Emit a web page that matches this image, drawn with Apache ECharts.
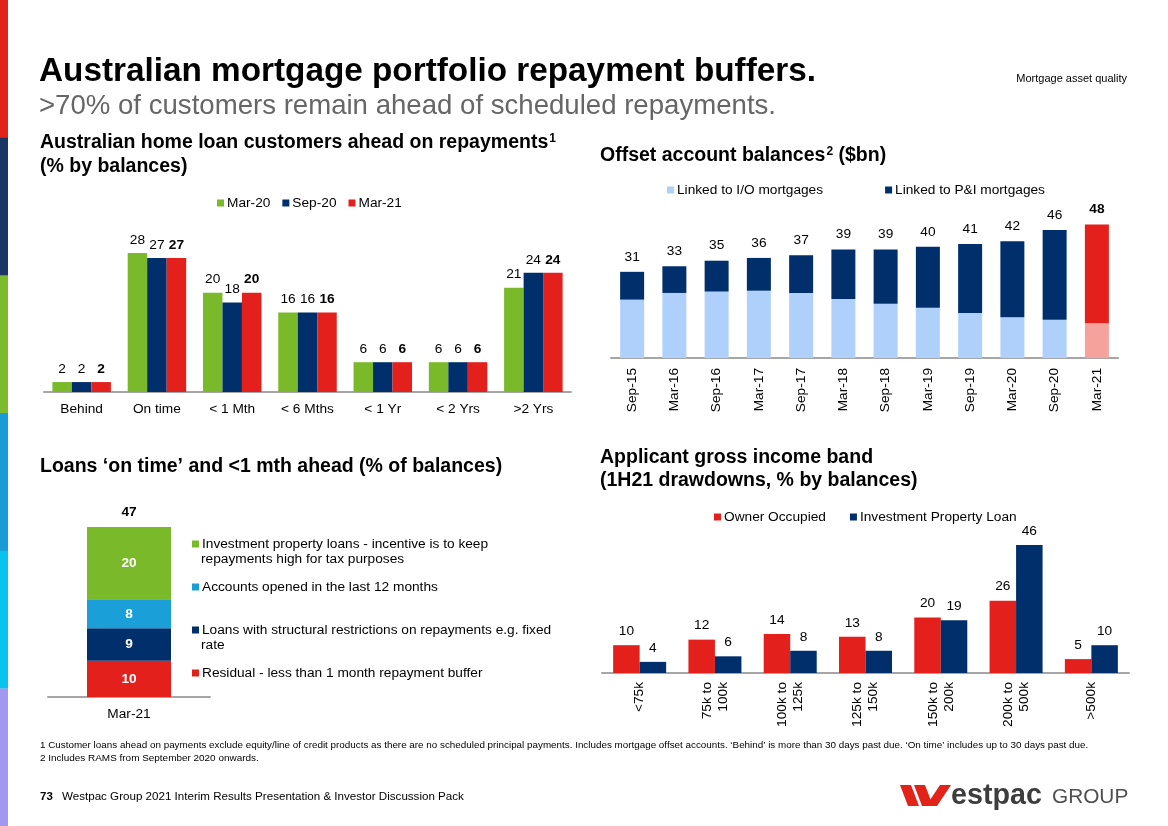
<!DOCTYPE html>
<html><head><meta charset="utf-8">
<script src="https://cdn.jsdelivr.net/npm/echarts@6/dist/echarts.min.js"></script>
<style>html,body{margin:0;padding:0;background:#fff}#c{width:1168px;height:826px}</style>
</head><body><div id="c"></div>
<script>
// ---- Data ----
const repayCats = ['Behind','On time','< 1 Mth','< 6 Mths','< 1 Yr','< 2 Yrs','>2 Yrs'];
const repayMar20 = [2,28,20,16,6,6,21];
const repaySep20 = [2,27,18,16,6,6,24];
const repayMar21 = [2,27,20,16,6,6,24];

const offsetCats = ['Sep-15','Mar-16','Sep-16','Mar-17','Sep-17','Mar-18','Sep-18','Mar-19','Sep-19','Mar-20','Sep-20','Mar-21'];
const offsetIO = [21.0,23.4,23.9,24.2,23.4,21.2,19.5,18.1,16.2,14.7,13.8,12.5];
const offsetPI = [10.0,9.6,11.1,11.8,13.6,17.8,19.5,21.9,24.8,27.3,32.2,35.5];
const offsetTotals = [31,33,35,36,37,39,39,40,41,42,46,48];

const onTimeCat = ['Mar-21'];
const onTimeResidual = [10];
const onTimeStructural = [9];
const onTimeAccounts = [8];
const onTimeInvestment = [20];
const onTimeTotal = [47];

const incomeCats = ['<75k','75k to\n100k','100k to\n125k','125k to\n150k','150k to\n200k','200k to\n500k','>500k'];
const incomeOwner = [10,12,14,13,20,26,5];
const incomeInvest = [4,6,8,8,19,46,10];

// ---- Styles ----
const FONT = "'Liberation Sans', Arial, sans-serif";
const FS = 13.7;
const RED = '#e3201b', NAVY = '#002f6c', GREEN = '#7ab929', LBLUE = '#afd0fb', LRED = '#f5a19c', CYAN = '#1a9fd9';
const AXIS = '#a6a6a6';

const chart = echarts.init(document.getElementById('c'));

function catAxis(gi, data, labelExtra) {
  return {
    type: 'category', gridIndex: gi, data: data,
    axisTick: {show: false},
    axisLine: {lineStyle: {color: AXIS, width: 2}},
    axisLabel: Object.assign({color: '#000', fontFamily: FONT, fontSize: FS, margin: 10, interval: 0}, labelExtra || {})
  };
}
function valAxis(gi, max) {
  return {type: 'value', gridIndex: gi, min: 0, max: max, show: false};
}
const lbl = (bold, extra) => Object.assign({show: true, position: 'top', distance: 6, color: '#000',
  fontFamily: FONT, fontSize: FS, fontWeight: bold ? 'bold' : 'normal'}, extra || {});
const legText = {fontFamily: FONT, fontSize: FS, color: '#000', padding: [0,0,0,-2]};

const investName = 'Investment property loans - incentive is to keep';
const accountsName = 'Accounts opened in the last 12 months';
const structName = 'Loans with structural restrictions on repayments e.g. fixed';
const residName = 'Residual - less than 1 month repayment buffer';

const stripColors = ['#e2231a','#1b3566','#7cbb2e','#1a9ad6','#09c3ee','#a398ef'];
const graphics = [];
stripColors.forEach((c, i) => {
  graphics.push({type: 'rect', left: 0, top: i * 137.7, shape: {width: 8, height: 138}, style: {fill: c}, z: 10});
});
function txt(x, y, text, size, weight, color) {
  return {type: 'text', x: x, y: y, style: {text: text, fontFamily: FONT, fontSize: size,
    fontWeight: weight || 'normal', fill: color || '#000', verticalAlign: 'middle', align: 'left'}};
}
const TS = 19.5;
const sup = {fontFamily: FONT, fontSize: 12, fontWeight: 'bold', fill: '#000', padding: [0,0,9,1]};
const tA = {fontFamily: FONT, fontSize: TS, fontWeight: 'bold', fill: '#000'};

graphics.push(txt(39, 72, 'Australian mortgage portfolio repayment buffers.', 33.3, 'bold', '#000'));
graphics.push(txt(39, 106, '>70% of customers remain ahead of scheduled repayments.', 27.6, 'normal', '#666'));
graphics.push({type: 'text', x: 1127, y: 79, style: {text: 'Mortgage asset quality', fontFamily: FONT, fontSize: 11, fill: '#000', align: 'right', verticalAlign: 'middle'}});

graphics.push({type: 'text', x: 40, y: 143, style: {text: '{a|Australian home loan customers ahead on repayments}{s|1}',
  verticalAlign: 'middle', rich: {a: tA, s: sup}}});
graphics.push(txt(40, 167, '(% by balances)', TS, 'bold'));
graphics.push({type: 'text', x: 600, y: 156, style: {text: '{a|Offset account balances}{s|2}{a| ($bn)}',
  verticalAlign: 'middle', rich: {a: tA, s: sup}}});
graphics.push(txt(40, 467, 'Loans \u2018on time\u2019 and <1 mth ahead (% of balances)', TS, 'bold'));
graphics.push(txt(600, 458, 'Applicant gross income band', TS, 'bold'));
graphics.push(txt(600, 481, '(1H21 drawdowns, % by balances)', TS, 'bold'));

graphics.push(txt(201, 559, 'repayments high for tax purposes', FS, 'normal', '#000'));
graphics.push(txt(201, 645, 'rate', FS, 'normal', '#000'));

graphics.push(txt(40, 745, '1 Customer loans ahead on payments exclude equity/line of credit products as there are no scheduled principal payments. Includes mortgage offset accounts. \u2018Behind\u2019 is more than 30 days past due. \u2018On time\u2019 includes up to 30 days past due.', 9.85, 'normal', '#000'));
graphics.push(txt(40, 758, '2 Includes RAMS from September 2020 onwards.', 9.95, 'normal', '#000'));
graphics.push(txt(40, 797, '73', 11.5, 'bold', '#000'));
graphics.push(txt(62, 797, 'Westpac Group 2021 Interim Results Presentation & Investor Discussion Pack', 11.6, 'normal', '#000'));

// logo
graphics.push({type: 'polygon', shape: {points: [[900,785],[911,785],[919,806],[908,806]]}, style: {fill: '#e2231a'}});
graphics.push({type: 'polygon', shape: {points: [[914,785],[925,785],[933,806],[922,806]]}, style: {fill: '#e2231a'}});
graphics.push({type: 'polygon', shape: {points: [[926,806],[937,806],[951,785],[940,785]]}, style: {fill: '#e2231a'}});
graphics.push(txt(951, 796, 'estpac', 28.7, 'bold', '#3d3d3d'));
graphics.push(txt(1052, 797, 'GROUP', 20.8, 'normal', '#4f4f4f'));

const insideLbl = {show: true, position: 'inside', color: '#fff', fontWeight: 'bold', fontSize: FS, fontFamily: FONT};

const option = {
  animation: false,
  textStyle: {fontFamily: FONT},
  graphic: graphics,
  grid: [
    {left: 44, top: 243, width: 527, height: 149},
    {left: 611, top: 219, width: 507, height: 139},
    {left: 48, top: 527, width: 162, height: 170},
    {left: 602, top: 534, width: 527, height: 139}
  ],
  legend: [
    {left: 212, top: 191, itemWidth: 7, itemHeight: 7, itemGap: 12, icon: 'rect',
      data: ['Mar-20','Sep-20','Mar-21'], textStyle: legText},
    {left: 662, top: 178, itemWidth: 7, itemHeight: 7, itemGap: 62, icon: 'rect',
      data: ['Linked to I/O mortgages','Linked to P&I mortgages'], textStyle: legText},
    {left: 187, top: 532, orient: 'vertical', itemWidth: 7, itemHeight: 7, itemGap: 29, icon: 'rect',
      data: [investName, accountsName, structName, residName], textStyle: Object.assign({lineHeight: 14}, legText)},
    {left: 709, top: 505, itemWidth: 7, itemHeight: 7, itemGap: 24, icon: 'rect',
      data: ['Owner Occupied','Investment Property Loan'], textStyle: legText}
  ],
  xAxis: [
    catAxis(0, repayCats),
    catAxis(1, offsetCats, {rotate: 90}),
    catAxis(2, onTimeCat),
    catAxis(3, incomeCats, {margin: 9, rotate: 90, lineHeight: 16})
  ],
  yAxis: [valAxis(0, 30), valAxis(1, 50), valAxis(2, 47), valAxis(3, 50)],
  series: [
    {name: 'Mar-20', type: 'bar', xAxisIndex: 0, yAxisIndex: 0, data: repayMar20, barWidth: 19.5, barGap: '0%', itemStyle: {color: GREEN}, label: lbl(false)},
    {name: 'Sep-20', type: 'bar', xAxisIndex: 0, yAxisIndex: 0, data: repaySep20, barWidth: 19.5, barGap: '0%', itemStyle: {color: NAVY}, label: lbl(false)},
    {name: 'Mar-21', type: 'bar', xAxisIndex: 0, yAxisIndex: 0, data: repayMar21, barWidth: 19.5, barGap: '0%', itemStyle: {color: RED}, label: lbl(true)},

    {name: 'Linked to I/O mortgages', type: 'bar', stack: 'off', xAxisIndex: 1, yAxisIndex: 1, barWidth: 24, itemStyle: {color: LBLUE},
      data: offsetIO.map((v, i) => i === offsetIO.length - 1 ? {value: v, itemStyle: {color: LRED}} : v)},
    {name: 'Linked to P&I mortgages', type: 'bar', stack: 'off', xAxisIndex: 1, yAxisIndex: 1, barWidth: 24, itemStyle: {color: NAVY},
      data: offsetPI.map((v, i) => i === offsetPI.length - 1 ? {value: v, itemStyle: {color: RED}, label: {fontWeight: 'bold'}} : v),
      label: lbl(false, {distance: 8, formatter: p => offsetTotals[p.dataIndex]})},

    {name: residName, type: 'bar', stack: 'ot', xAxisIndex: 2, yAxisIndex: 2, barWidth: 84, itemStyle: {color: RED}, data: onTimeResidual, label: insideLbl},
    {name: structName, type: 'bar', stack: 'ot', xAxisIndex: 2, yAxisIndex: 2, barWidth: 84, itemStyle: {color: NAVY}, data: onTimeStructural, label: insideLbl},
    {name: accountsName, type: 'bar', stack: 'ot', xAxisIndex: 2, yAxisIndex: 2, barWidth: 84, itemStyle: {color: CYAN}, data: onTimeAccounts, label: insideLbl},
    {name: investName, type: 'bar', stack: 'ot', xAxisIndex: 2, yAxisIndex: 2, barWidth: 84, itemStyle: {color: GREEN}, data: onTimeInvestment, label: insideLbl},
    {name: 'total', type: 'bar', stack: 'ot', xAxisIndex: 2, yAxisIndex: 2, barWidth: 84, itemStyle: {color: 'rgba(0,0,0,0)'}, data: [0],
      label: {show: true, position: 'top', distance: 8, color: '#000', fontWeight: 'bold', fontSize: FS, fontFamily: FONT, formatter: () => onTimeTotal[0]}},

    {name: 'Owner Occupied', type: 'bar', xAxisIndex: 3, yAxisIndex: 3, data: incomeOwner, barWidth: 26.5, barGap: '0%', itemStyle: {color: RED}, label: lbl(false, {distance: 7})},
    {name: 'Investment Property Loan', type: 'bar', xAxisIndex: 3, yAxisIndex: 3, data: incomeInvest, barWidth: 26.5, barGap: '0%', itemStyle: {color: NAVY}, label: lbl(false, {distance: 7})}
  ]
};
chart.setOption(option);
</script></body></html>
